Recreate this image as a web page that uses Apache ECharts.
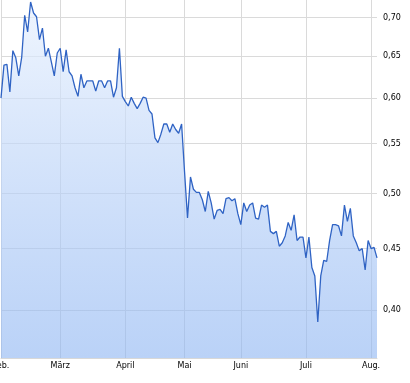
<!DOCTYPE html>
<html>
<head>
<meta charset="utf-8">
<script src="https://cdn.jsdelivr.net/npm/echarts@6/dist/echarts.min.js"></script>
<style>html,body{margin:0;padding:0;background:#fff}#c{width:410px;height:383px}</style>
</head>
<body>
<div id="c"></div>
<script>
const dates = [
 '01.02.','02.02.','03.02.','04.02.','05.02.','08.02.','09.02.','10.02.','11.02.','12.02.','15.02.','16.02.','17.02.','18.02.','19.02.','22.02.','23.02.','24.02.','25.02.','26.02.',
 '01.03.','02.03.','03.03.','04.03.','05.03.','08.03.','09.03.','10.03.','11.03.','12.03.','15.03.','16.03.','17.03.','18.03.','19.03.','22.03.','23.03.','24.03.','25.03.','26.03.','29.03.','30.03.',
 '01.04.','06.04.','07.04.','08.04.','09.04.','12.04.','13.04.','14.04.','15.04.','16.04.','19.04.','20.04.','21.04.','22.04.','23.04.','26.04.','27.04.','28.04.','29.04.','30.04.',
 '03.05.','04.05.','05.05.','06.05.','07.05.','10.05.','11.05.','12.05.','14.05.','17.05.','18.05.','19.05.','20.05.','21.05.','25.05.','26.05.','27.05.','28.05.','31.05.',
 '01.06.','02.06.','03.06.','04.06.','07.06.','08.06.','09.06.','10.06.','11.06.','14.06.','15.06.','16.06.','17.06.','18.06.','21.06.','22.06.','23.06.','24.06.','25.06.','28.06.','29.06.','30.06.',
 '01.07.','02.07.','05.07.','06.07.','07.07.','08.07.','09.07.','12.07.','13.07.','14.07.','15.07.','16.07.','19.07.','20.07.','21.07.','22.07.','23.07.','26.07.','27.07.','28.07.','29.07.','30.07.',
 '02.08.','03.08.','04.08.'
];
const prices = [
 0.600,0.639,0.640,0.607,0.657,0.648,0.626,0.649,0.703,0.681,0.721,0.706,0.701,0.671,0.686,0.650,0.660,0.643,0.626,0.654,
 0.660,0.631,0.658,0.631,0.626,0.612,0.602,0.628,0.612,0.620,0.620,0.620,0.608,0.620,0.620,0.612,0.620,0.620,0.601,0.612,0.660,0.602,
 0.596,0.591,0.601,0.594,0.588,0.594,0.601,0.600,0.586,0.582,0.556,0.551,0.560,0.571,0.571,0.562,0.571,0.565,0.561,0.571,
 0.521,0.477,0.516,0.504,0.501,0.501,0.494,0.483,0.502,0.491,0.476,0.484,0.485,0.481,0.495,0.496,0.493,0.495,0.481,
 0.471,0.491,0.483,0.489,0.491,0.477,0.476,0.489,0.487,0.489,0.465,0.463,0.465,0.452,0.455,0.461,0.473,0.466,0.480,0.457,0.460,0.460,
 0.442,0.460,0.434,0.427,0.391,0.427,0.440,0.439,0.457,0.471,0.471,0.470,0.461,0.489,0.474,0.486,0.461,0.455,0.448,0.450,0.432,0.457,
 0.450,0.451,0.442
];
const monthLabels = ['Feb.','März','April','Mai','Juni','Juli','Aug.'];
const monthCodes = ['02','03','04','05','06','07','08'];
const yTicks = [0.40,0.45,0.50,0.55,0.60,0.65,0.70];

const monthStart = {};
dates.forEach((d, i) => {
  const m = d.slice(3,5);
  if (!(m in monthStart)) monthStart[m] = i;
});
const isMonthStart = (idx) => Object.values(monthStart).indexOf(idx) >= 0;

const chart = echarts.init(document.getElementById('c'), null, {renderer:'canvas'});
chart.setOption({
  animation: false,
  backgroundColor: '#ffffff',
  grid: {left: 1, right: 33, top: 0, bottom: 25, containLabel: false, outerBoundsMode: 'none'},
  xAxis: {
    type: 'category',
    data: dates,
    boundaryGap: false,
    axisLine: {show: true, lineStyle: {color: '#d8d8d8', width: 1}},
    axisTick: {show: false},
    axisLabel: {
      interval: (idx) => isMonthStart(idx),
      formatter: (v) => monthLabels[monthCodes.indexOf(v.slice(3,5))],
      color: '#000', fontFamily: 'DejaVu Sans', fontSize: 8, margin: 4
    },
    splitLine: {show: true, interval: (idx) => isMonthStart(idx), lineStyle: {color: '#dadada', width: 1}}
  },
  yAxis: {
    type: 'log',
    logBase: 10,
    position: 'right',
    min: 0.365,
    max: 0.7238,
    axisLine: {show: false},
    axisTick: {show: false, customValues: yTicks},
    axisLabel: {
      customValues: yTicks,
      formatter: (v) => Number(v).toFixed(2).replace('.', ','),
      color: '#000', fontFamily: 'DejaVu Sans', fontSize: 8, margin: 6
    },
    splitLine: {show: true, lineStyle: {color: '#dadada', width: 1}}
  },
  series: [{
    type: 'line',
    data: prices,
    symbol: 'none',
    smooth: false,
    lineStyle: {color: '#2f63c4', width: 1.3},
    areaStyle: {
      opacity: 1,
      color: new echarts.graphic.LinearGradient(0, 0, 0, 1, [
        {offset: 0, color: 'rgba(232,241,254,0.7)'},
        {offset: 1, color: 'rgba(140,180,242,0.6)'}
      ])
    }
  }]
});
</script>
</body>
</html>
